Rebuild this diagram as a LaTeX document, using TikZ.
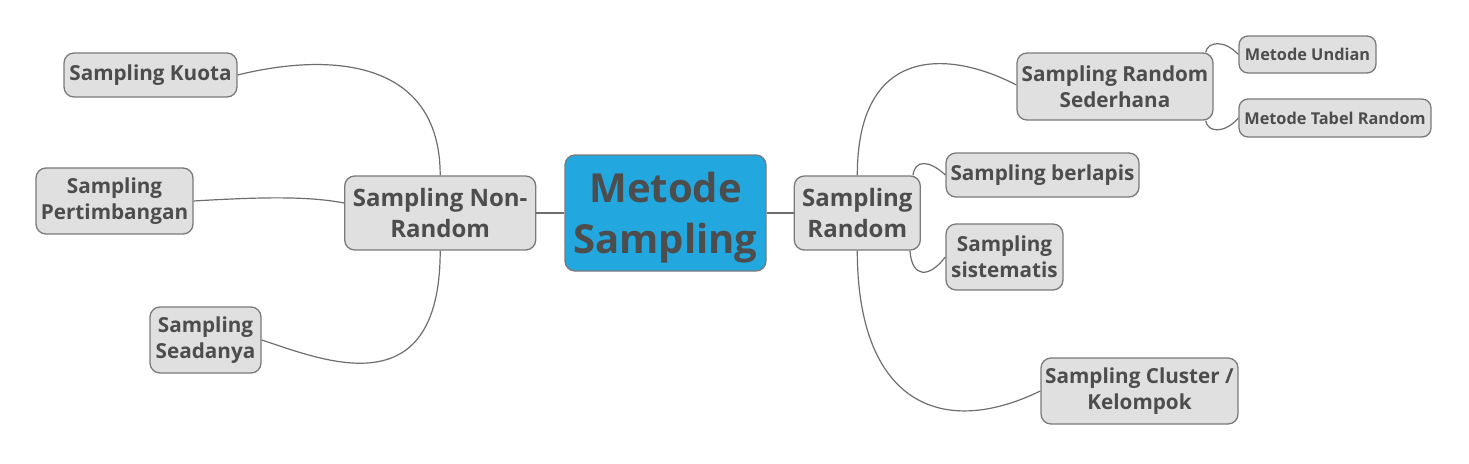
\documentclass[tikz,border=0pt]{standalone}
\usepackage{fontspec}
\setmainfont{Open Sans}
\usetikzlibrary{positioning}
\definecolor{boxfill}{HTML}{E0E0E0}
\definecolor{boxline}{HTML}{7A7A7A}
\definecolor{rootfill}{HTML}{22A7DF}
\definecolor{textgray}{HTML}{4D4D4D}
\definecolor{linegray}{HTML}{6E6E6E}

\begin{document}
\begin{tikzpicture}[x=1pt,y=1pt,auto]
                    \tikzstyle{every node}=[rectangle,rounded corners=10,draw=boxline,line width=1.3,fill=boxfill,text=textgray,align=center,inner sep=0,node distance=0]
                    \tikzstyle{root}=[fill=rootfill,font=\fontsize{40}{51}\selectfont\bfseries]
                    \tikzstyle{branch}=[font=\fontsize{24}{31.5}\selectfont\bfseries]
                    \tikzstyle{leaf}=[font=\fontsize{20.7}{26}\selectfont\bfseries]
                    \tikzstyle{twig}=[rounded corners=9,font=\fontsize{16.3}{20}\selectfont\bfseries]
                    \tikzstyle{link}=[draw=linegray,line width=1.2]
                    \useasboundingbox (0,0) rectangle (1469,-463);
                    {
                        \node[root,minimum width=201,minimum height=116] (root) at (665.5,-213) {\rule{0pt}{40pt}Metode\\Sampling};
                        \node[branch,minimum width=191,minimum height=74] (nonrandom) [left=28 of root] {Sampling Non-\\Random};
                        \node[branch,minimum width=126,minimum height=74] (random) [right=27 of root] {Sampling\\Random};

                        \node[leaf,minimum width=173,minimum height=44] (kuota) at (150.5,-75) {Sampling Kuota};
                        \node[leaf,minimum width=157,minimum height=66] (pertimbangan) at (114.5,-201) {Sampling\\Pertimbangan};
                        \node[leaf,minimum width=111,minimum height=66] (seadanya) at (205.5,-340) {Sampling\\Seadanya};

                        \node[leaf,minimum width=196,minimum height=67] (sederhana) at (1115,-86.5) {Sampling Random\\Sederhana};
                        \node[leaf,minimum width=193,minimum height=44] (berlapis) at (1042.5,-175) {Sampling berlapis};
                        \node[leaf,minimum width=117,minimum height=66] (sistematis) at (1004.5,-257) {Sampling\\sistematis};
                        \node[leaf,minimum width=197,minimum height=66] (cluster) at (1139.5,-391) {Sampling Cluster /\\Kelompok};

                        \node[twig,minimum width=137,minimum height=37] (undian) at (1307.5,-54.5) {Metode Undian};
                        \node[twig,minimum width=192,minimum height=38] (tabel) at (1335,-118) {Metode Tabel Random};

                        \path[link]
                            (root.west) edge (nonrandom.east)
                            (root.east) edge (random.west);

                        \draw[link] (kuota.east) .. controls +(93,23) and +(0,116) .. (nonrandom.north);
                        \draw[link] (pertimbangan.east) .. controls +(67,4) and +(-36,7) .. ([yshift=10]nonrandom.west);
                        \draw[link] (seadanya.east) .. controls +(59,-19) and +(0,-160) .. (nonrandom.south);

                        \draw[link] ([yshift=1.5]sederhana.west) .. controls +(-67,35) and +(0,131) .. (random.north);
                        \draw[link] ([xshift=-8]random.north east) .. controls +(2,16) and +(-16,15) .. (berlapis.west);
                        \draw[link] ([xshift=-11]random.south east) .. controls +(2,-28) and +(-16,-21) .. (sistematis.west);
                        \draw[link] (random.south) .. controls +(0,-150) and +(-101,-49) .. (cluster.west);

                        \draw[link] ([xshift=-8]sederhana.north east) .. controls +(2,11) and +(-14,15) .. (undian.west);
                        \draw[link] ([xshift=-8]sederhana.south east) .. controls +(2,-12) and +(-14,-16) .. (tabel.west);
                    }
                \end{tikzpicture}
\end{document}
